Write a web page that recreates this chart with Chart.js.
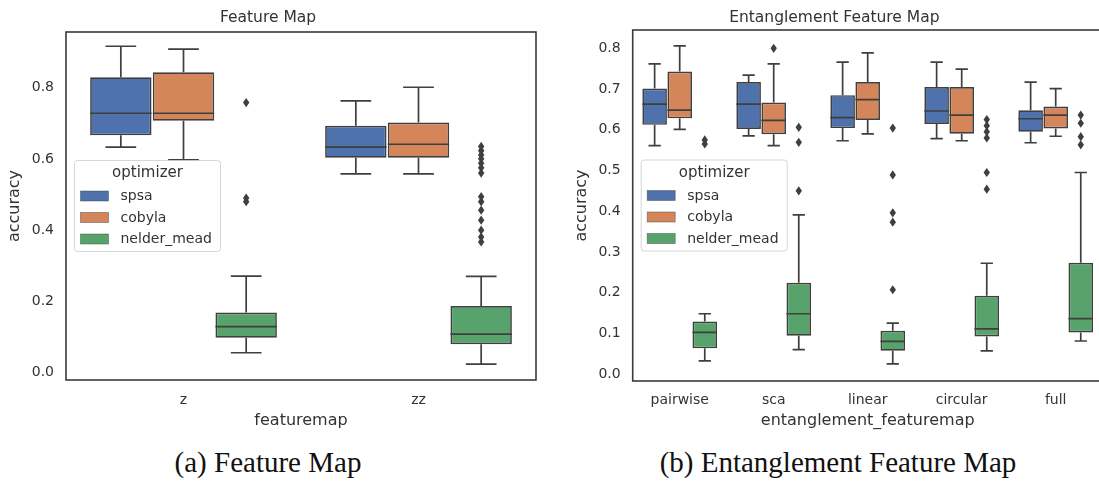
<!DOCTYPE html>
<html>
<head>
<meta charset="utf-8">
<script src="https://cdn.jsdelivr.net/npm/chart.js@4.4.1/dist/chart.umd.min.js"></script>
<style>
  html, body { margin: 0; padding: 0; background: #fff; }
  #page { position: relative; width: 1099px; height: 487px; overflow: hidden; background: #fff; }
  canvas { position: absolute; top: 0; }
  #fm { left: 0; }
  #efm { left: 566px; }
  .caption {
    position: absolute; top: 445px; width: 500px; text-align: center;
    font-family: "Liberation Serif", "DejaVu Serif", serif; font-size: 29px; color: #111;
    line-height: 34px; white-space: nowrap;
  }
</style>
</head>
<body>
<div id="page">
  <canvas id="fm" width="560" height="440"></canvas>
  <canvas id="efm" width="544" height="440"></canvas>
  <div class="caption" style="left:18px;">(a) Feature Map</div>
  <div class="caption" style="left:588px;">(b) Entanglement Feature Map</div>
</div>
<script>
// ---- data: five-number summaries [whisker low, q1, median, q3, whisker high] ----
const optimizers = ['spsa', 'cobyla', 'nelder_mead'];

// Feature Map
const fmCategories = ['z', 'zz'];
const fmTicks = [0.0, 0.2, 0.4, 0.6, 0.8];
const fmSpsa   = [[0.633, 0.666, 0.728, 0.829, 0.916], [0.558, 0.603, 0.633, 0.693, 0.763]];
const fmCobyla = [[0.597, 0.707, 0.728, 0.843, 0.908], [0.558, 0.603, 0.641, 0.702, 0.801]];
const fmNelder = [[0.056, 0.098, 0.129, 0.169, 0.271], [0.024, 0.080, 0.108, 0.187, 0.270]];
const fmSpsaOut   = [[], []];
const fmCobylaOut = [[], []];
const fmNelderOut = [
  [0.758, 0.490, 0.480],
  [0.635, 0.623, 0.611, 0.600, 0.588, 0.575, 0.560, 0.494, 0.480, 0.456, 0.428, 0.400, 0.381, 0.367]
];

// Entanglement Feature Map
const efmCategories = ['pairwise', 'sca', 'linear', 'circular', 'full'];
const efmTicks = [0.0, 0.1, 0.2, 0.3, 0.4, 0.5, 0.6, 0.7, 0.8];
const efmSpsa = [
  [0.561, 0.612, 0.663, 0.701, 0.762],
  [0.585, 0.602, 0.663, 0.717, 0.734],
  [0.573, 0.604, 0.630, 0.685, 0.766],
  [0.578, 0.614, 0.646, 0.705, 0.766],
  [0.568, 0.595, 0.627, 0.648, 0.717]
];
const efmCobyla = [
  [0.601, 0.628, 0.648, 0.743, 0.806],
  [0.561, 0.589, 0.623, 0.667, 0.762],
  [0.590, 0.624, 0.674, 0.717, 0.789],
  [0.573, 0.590, 0.636, 0.705, 0.749],
  [0.584, 0.603, 0.636, 0.657, 0.701]
];
const efmNelder = [
  [0.032, 0.063, 0.102, 0.129, 0.148],
  [0.060, 0.094, 0.148, 0.224, 0.391],
  [0.025, 0.057, 0.080, 0.106, 0.125],
  [0.057, 0.092, 0.111, 0.192, 0.272],
  [0.081, 0.102, 0.136, 0.273, 0.495]
];
const efmSpsaOut   = [[], [], [], [], []];
const efmCobylaOut = [[], [0.800], [], [], []];
const efmNelderOut = [
  [0.575, 0.565],
  [0.606, 0.569, 0.450],
  [0.604, 0.489, 0.396, 0.373, 0.207],
  [0.625, 0.610, 0.595, 0.580, 0.495, 0.454],
  [0.636, 0.616, 0.583, 0.563]
];

// ---- styling ----
const fills = ['#4f72ad', '#d4855a', '#58a36b'];
const edge = '#3f3f3f';
const textColor = '#333333';
Chart.defaults.font.family = '"DejaVu Sans", sans-serif';
Chart.defaults.color = textColor;

// whiskers, caps, medians and outlier diamonds for each box
const boxWhiskers = {
  id: 'boxWhiskers',
  afterDatasetsDraw(chart) {
    const ctx = chart.ctx, ys = chart.scales.y;
    const px = v => ys.getPixelForValue(v);
    ctx.save();
    ctx.strokeStyle = edge;
    ctx.fillStyle = edge;
    ctx.lineWidth = 1.7;
    chart.data.datasets.forEach((ds, i) => {
      const meta = chart.getDatasetMeta(i);
      meta.data.forEach((bar, j) => {
        const [lo, q1, med, q3, hi] = ds.summary[j];
        const x = bar.x, half = bar.width / 2, cap = bar.width / 4;
        ctx.beginPath();
        ctx.moveTo(x, px(q3)); ctx.lineTo(x, px(hi));
        ctx.moveTo(x - cap, px(hi)); ctx.lineTo(x + cap, px(hi));
        ctx.moveTo(x, px(q1)); ctx.lineTo(x, px(lo));
        ctx.moveTo(x - cap, px(lo)); ctx.lineTo(x + cap, px(lo));
        ctx.moveTo(x - half, px(med)); ctx.lineTo(x + half, px(med));
        ctx.stroke();
        ds.outliers[j].forEach(v => {
          const y = px(v);
          ctx.beginPath();
          ctx.moveTo(x, y - 4.6);
          ctx.lineTo(x + 3.2, y);
          ctx.lineTo(x, y + 4.6);
          ctx.lineTo(x - 3.2, y);
          ctx.closePath();
          ctx.fill();
        });
      });
    });
    ctx.restore();
  }
};

// axes frame on all four sides
const axesFrame = {
  id: 'axesFrame',
  afterDatasetsDraw(chart) {
    const { left, top, right, bottom } = chart.chartArea;
    const ctx = chart.ctx;
    ctx.save();
    ctx.strokeStyle = '#3a3a3a';
    ctx.lineWidth = 1.6;
    ctx.strokeRect(left, top, right - left, bottom - top);
    ctx.restore();
  }
};

// "optimizer" legend box, centred vertically at the left of the plot
const optimizerLegend = {
  id: 'optimizerLegend',
  afterDraw(chart, args, opts) {
    const ctx = chart.ctx;
    const { left, top, bottom } = chart.chartArea;
    const w = 146, h = 91;
    const x0 = left + 8.5, y0 = (top + bottom) / 2 - h / 2;
    ctx.save();
    ctx.beginPath();
    if (ctx.roundRect) ctx.roundRect(x0, y0, w, h, 3); else ctx.rect(x0, y0, w, h);
    ctx.fillStyle = 'rgba(255,255,255,0.8)';
    ctx.fill();
    ctx.strokeStyle = 'rgba(204,204,204,0.8)';
    ctx.lineWidth = 1;
    ctx.stroke();
    ctx.fillStyle = textColor;
    ctx.textBaseline = 'middle';
    ctx.textAlign = 'center';
    ctx.font = '15px "DejaVu Sans", sans-serif';
    ctx.fillText(opts.title, x0 + w / 2, y0 + 13);
    ctx.textAlign = 'left';
    ctx.font = '14px "DejaVu Sans", sans-serif';
    chart.data.datasets.forEach((ds, i) => {
      const cy = y0 + 35.5 + i * 21.5;
      ctx.fillStyle = ds.backgroundColor;
      ctx.fillRect(x0 + 6, cy - 5, 28, 10);
      ctx.strokeStyle = 'rgba(63,63,63,0.55)';
      ctx.lineWidth = 0.8;
      ctx.strokeRect(x0 + 6, cy - 5, 28, 10);
      ctx.fillStyle = textColor;
      ctx.fillText(ds.label, x0 + 46, cy + 0.5);
    });
    ctx.restore();
  }
};

function buildDatasets(boxes, outs) {
  return optimizers.map((name, i) => ({
    label: name,
    data: boxes[i].map(b => [b[1], b[3]]),
    summary: boxes[i],
    outliers: outs[i],
    backgroundColor: fills[i],
    borderColor: edge,
    borderWidth: 1.7,
    borderSkipped: false,
    barPercentage: 0.98,
    categoryPercentage: 0.8
  }));
}

function makeBoxChart(id, p) {
  return new Chart(document.getElementById(id), {
    type: 'bar',
    data: { labels: p.categories, datasets: buildDatasets(p.boxes, p.outs) },
    options: {
      responsive: false,
      animation: false,
      events: [],
      layout: { padding: { left: 0, right: p.padRight, top: 0, bottom: 0 } },
      plugins: {
        legend: { display: false },
        tooltip: { enabled: false },
        title: {
          display: true, text: p.title, color: textColor,
          font: { size: 15.5, weight: 'normal' },
          padding: { top: 9, bottom: p.titleGap }
        },
        optimizerLegend: { title: 'optimizer' }
      },
      scales: {
        x: {
          type: 'category',
          grid: { display: false, drawTicks: false },
          border: { display: false },
          ticks: { font: { size: 14 }, color: textColor, padding: p.xTickPad },
          title: { display: true, text: p.xTitle, color: textColor, font: { size: 16 }, padding: { top: 0, bottom: 10 } },
          afterFit: s => { s.height = p.xHeight; }
        },
        y: {
          min: p.yMin, max: p.yMax,
          grid: { display: false, drawTicks: false },
          border: { display: false },
          afterBuildTicks: s => { s.ticks = p.ticks.map(v => ({ value: v })); },
          ticks: { font: { size: 14 }, color: textColor, padding: 12, callback: v => v.toFixed(1) },
          title: { display: true, text: 'accuracy', color: textColor, font: { size: 16 }, padding: { top: p.yTitlePad, bottom: 0 } },
          afterFit: s => { s.width = p.yWidth; }
        }
      }
    },
    plugins: [boxWhiskers, axesFrame, optimizerLegend]
  });
}

makeBoxChart('fm', {
  title: 'Feature Map', xTitle: 'featuremap',
  categories: fmCategories, ticks: fmTicks,
  boxes: [fmSpsa, fmCobyla, fmNelder],
  outs: [fmSpsaOut, fmCobylaOut, fmNelderOut],
  yMin: -0.0205, yMax: 0.956,
  padRight: 24, yWidth: 66, xHeight: 60, titleGap: 4.4, xTickPad: 11.5, yTitlePad: 5.4
});

makeBoxChart('efm', {
  title: 'Entanglement Feature Map', xTitle: 'entanglement_featuremap',
  categories: efmCategories, ticks: efmTicks,
  boxes: [efmSpsa, efmCobyla, efmNelder],
  outs: [efmSpsaOut, efmCobylaOut, efmNelderOut],
  yMin: -0.0172, yMax: 0.845,
  padRight: 7.3, yWidth: 66.7, xHeight: 59, titleGap: 2.4, xTickPad: 10.6, yTitlePad: 6
});
</script>
</body>
</html>
